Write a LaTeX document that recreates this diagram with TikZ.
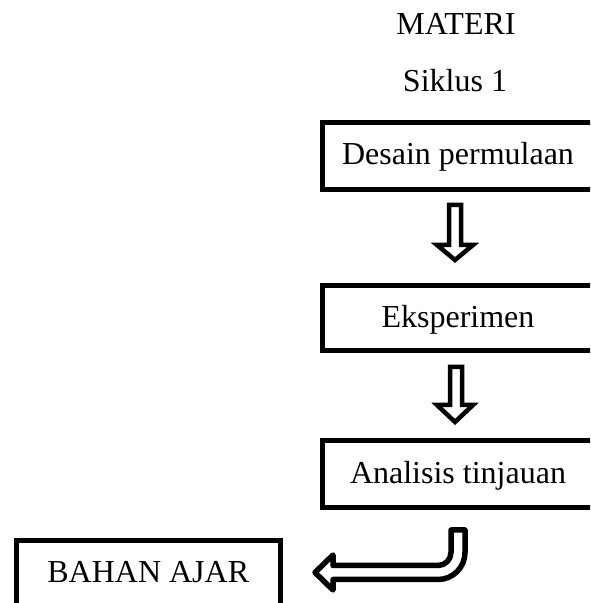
\documentclass[tikz,border=0pt]{standalone}
\usepackage{fontspec}
\setmainfont{Liberation Serif}
\begin{document}
\begin{tikzpicture}[x=1pt,y=1pt,
  every node/.style={font=\fontsize{32}{38}\selectfont, inner sep=0pt, outer sep=0pt},
  box/.style={draw, line width=5pt, rectangle, text height=24pt, text depth=6pt},
  blockarrow/.style={draw, line width=4.5pt, fill=white, line join=miter},
  bendarrow/.style={draw, line width=5.5pt, fill=white, line join=round}]
\useasboundingbox (0,0) rectangle (590,603);
\clip (0,0) rectangle (590,603);
\fill[white] (0,0) rectangle (590,603);

\node[anchor=base] (materi) at (456,568) {MATERI};
\node[anchor=base] (siklus) at (455,511) {Siklus 1};

\node[box, minimum width=272pt, minimum height=67pt] (b1) at (458,447) {Desain permulaan};
\node[box, minimum width=272pt, minimum height=65.5pt] (b2) at (458,284.75) {Eksperimen};
\node[box, minimum width=272pt, minimum height=67.5pt] (b3) at (458,128.75) {Analisis tinjauan};
\node[box, minimum width=263.5pt, minimum height=72pt, text height=18pt, text depth=6pt] (bahan) at (148.25,26) {BAHAN AJAR};

% down arrow 1
\draw[blockarrow] (449,398) -- (461,398) -- (461,358) -- (473,358) -- (455,343)
  -- (437,358) -- (449,358) -- cycle;
% down arrow 2
\draw[blockarrow] (450,236) -- (462,236) -- (462,198) -- (473,198) -- (455,181)
  -- (437,198) -- (450,198) -- cycle;
% bent arrow
\draw[bendarrow] (451,73) -- (465,73) -- (465,50.5) arc[start angle=0, end angle=-90, radius=27]
  -- (333,23.5) -- (333,13) -- (315,30.5) -- (333,48) -- (333,37.5) -- (438,37.5)
  arc[start angle=-90, end angle=0, radius=13] -- cycle;
\end{tikzpicture}
\end{document}
